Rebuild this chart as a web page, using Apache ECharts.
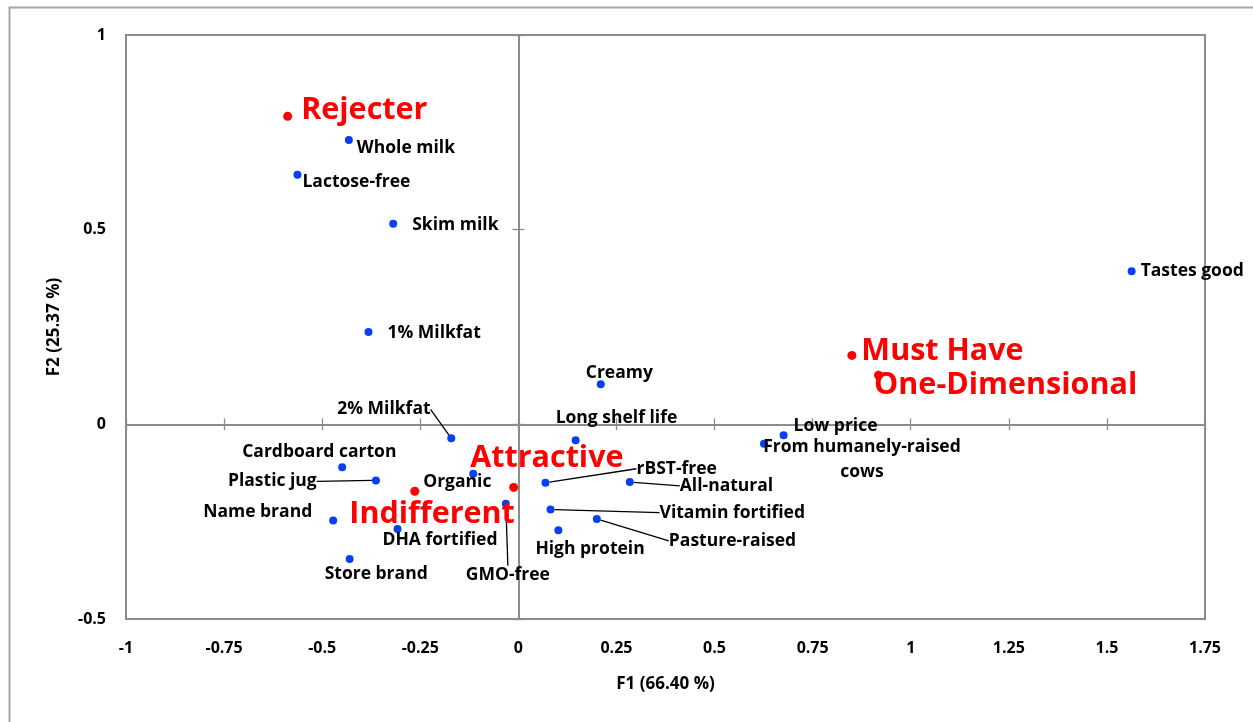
<!DOCTYPE html>
<html>
<head>
<meta charset="utf-8">
<script src="https://cdn.jsdelivr.net/npm/echarts@6/dist/echarts.min.js"></script>
<style>
html,body{margin:0;padding:0;background:#fff;}
#chart{width:1253px;height:722px;}
</style>
</head>
<body>
<div id="chart"></div>
<script>
// ---- Data ----
const attrNames = ['Whole milk','Lactose-free','Skim milk','1% Milkfat','2% Milkfat','Cardboard carton','Plastic jug','Organic','Name brand','DHA fortified','Store brand','GMO-free','Creamy','Long shelf life','rBST-free','All-natural','Vitamin fortified','Pasture-raised','High protein','Low price','From humanely-raised\ncows','Tastes good'];
const attrF1 = [-0.432,-0.563,-0.319,-0.382,-0.171,-0.449,-0.363,-0.115,-0.472,-0.308,-0.430,-0.032,0.210,0.146,0.069,0.284,0.082,0.200,0.102,0.676,0.626,1.563];
const attrF2 = [0.730,0.641,0.515,0.237,-0.036,-0.110,-0.144,-0.127,-0.247,-0.269,-0.346,-0.204,0.103,-0.041,-0.150,-0.148,-0.219,-0.243,-0.272,-0.028,-0.050,0.393];
const groupNames = ['Rejecter','Attractive','Indifferent','Must Have','One-Dimensional'];
const groupF1 = [-0.588,-0.012,-0.264,0.850,0.918];
const groupF2 = [0.791,-0.162,-0.172,0.177,0.126];
const xAxisTitle = 'F1 (66.40 %)';
const yAxisTitle = 'F2 (25.37 %)';

// ---- Label placement (styling only) ----
const attrLabelShift = {
  'Whole milk':[-1,8], 'Lactose-free':[-4,7], 'Skim milk':[10,1], '1% Milkfat':[10,1],
  '2% Milkfat':[-123,-29], 'Cardboard carton':[-109,-15], 'Plastic jug':[-157,1],
  'Organic':[-59,8], 'Name brand':[-139,-8], 'DHA fortified':[-24,11], 'Store brand':[-34,15],
  'GMO-free':[-49,71], 'Creamy':[-24,-11], 'Long shelf life':[-29,-22], 'rBST-free':[82,-14],
  'All-natural':[41,4], 'Vitamin fortified':[100,3], 'Pasture-raised':[63,22],
  'High protein':[-32,19], 'Low price':[1,-9], 'From humanely-raised\ncows':[98,16], 'Tastes good':[0,0]
};
const leaderLabels = ['2% Milkfat','Plastic jug','GMO-free','rBST-free','All-natural','Vitamin fortified','Pasture-raised'];
const groupLabelShift = {
  'Rejecter':[4,-6], 'Attractive':[-53,-29], 'Indifferent':[-75,23], 'Must Have':[0,-4], 'One-Dimensional':[-14,10]
};

const FONT = 'Open Sans';
const attrData = attrNames.map((n,i) => {
  const item = {name:n, value:[attrF1[i], attrF2[i]]};
  if (leaderLabels.indexOf(n) >= 0) item.labelLine = {show:true};
  if (n.indexOf('\n') >= 0) item.label = {position:'inside', align:'center', verticalAlign:'middle', lineHeight:25};
  return item;
});
const groupData = groupNames.map((n,i) => ({name:n, value:[groupF1[i], groupF2[i]]}));

const chart = echarts.init(document.getElementById('chart'), null, {renderer:'canvas'});
const gridColor = '#8c8c8c';
const baseX = {type:'value', min:-1, max:1.75, interval:0.25, splitLine:{show:false}};
const baseY = {type:'value', min:-0.5, max:1, interval:0.5, splitLine:{show:false}};
const zeroLine = {show:true, onZero:true, onZeroAxisIndex:0, lineStyle:{color:gridColor, width:2}};
const tickStyle = {color:gridColor, width:1.3};

chart.setOption({
  animation:false,
  backgroundColor:'#fff',
  graphic:[{type:'rect', left:7, top:5, shape:{width:1260, height:730}, style:{fill:'none', stroke:'#a6a6a6', lineWidth:2}, z:-10}],
  grid:{left:126, top:35, right:48, bottom:103, show:true, borderColor:gridColor, borderWidth:2, backgroundColor:'transparent'},
  xAxis:[
    Object.assign({}, baseX, {position:'bottom', axisLine:{show:false, onZero:false}, axisTick:{show:false},
      axisLabel:{margin:21, color:'#000', fontFamily:FONT, fontWeight:'bold', fontSize:16},
      name:xAxisTitle, nameLocation:'middle', nameGap:57,
      nameTextStyle:{color:'#000', fontFamily:FONT, fontWeight:'bold', fontSize:17}}),
    Object.assign({}, baseX, {position:'bottom', axisLine:zeroLine, axisTick:{show:true, length:6, inside:false, lineStyle:tickStyle}, axisLabel:{show:false}}),
    Object.assign({}, baseX, {position:'bottom', axisLine:zeroLine, axisTick:{show:true, length:6, inside:true, lineStyle:tickStyle}, axisLabel:{show:false}})
  ],
  yAxis:[
    Object.assign({}, baseY, {position:'left', axisLine:{show:false, onZero:false}, axisTick:{show:false},
      axisLabel:{margin:20, color:'#000', fontFamily:FONT, fontWeight:'bold', fontSize:16},
      name:yAxisTitle, nameLocation:'middle', nameGap:63,
      nameTextStyle:{color:'#000', fontFamily:FONT, fontWeight:'bold', fontSize:17}}),
    Object.assign({}, baseY, {position:'left', axisLine:zeroLine, axisTick:{show:true, length:6, inside:false, lineStyle:tickStyle}, axisLabel:{show:false}}),
    Object.assign({}, baseY, {position:'left', axisLine:zeroLine, axisTick:{show:true, length:6, inside:true, lineStyle:tickStyle}, axisLabel:{show:false}})
  ],
  series:[
    {
      type:'scatter', name:'Attributes', xAxisIndex:0, yAxisIndex:0,
      symbol:'circle', symbolSize:8, itemStyle:{color:'#0640f0', opacity:1},
      data:attrData,
      label:{show:true, position:'right', distance:5, formatter:'{b}', color:'#000', opacity:1, fontFamily:FONT, fontWeight:'bold', fontSize:17.5},
      labelLine:{show:false, lineStyle:{color:'#000', width:1.3, opacity:1}},
      labelLayout:function(p){ const s = attrLabelShift[attrNames[p.dataIndex]] || [0,0]; return {dx:s[0], dy:s[1]}; },
      emphasis:{disabled:true},
      z:3
    },
    {
      type:'scatter', name:'Groups', xAxisIndex:0, yAxisIndex:0,
      symbol:'circle', symbolSize:9, itemStyle:{color:'#ff0000', opacity:1},
      data:groupData,
      label:{show:true, position:'right', distance:5, formatter:'{b}', color:'#ff0000', opacity:1, fontFamily:FONT, fontWeight:'bold', fontSize:30.5},
      labelLayout:function(p){ const s = groupLabelShift[groupNames[p.dataIndex]] || [0,0]; return {dx:s[0], dy:s[1]}; },
      emphasis:{disabled:true},
      z:4
    }
  ]
});
</script>
</body>
</html>
